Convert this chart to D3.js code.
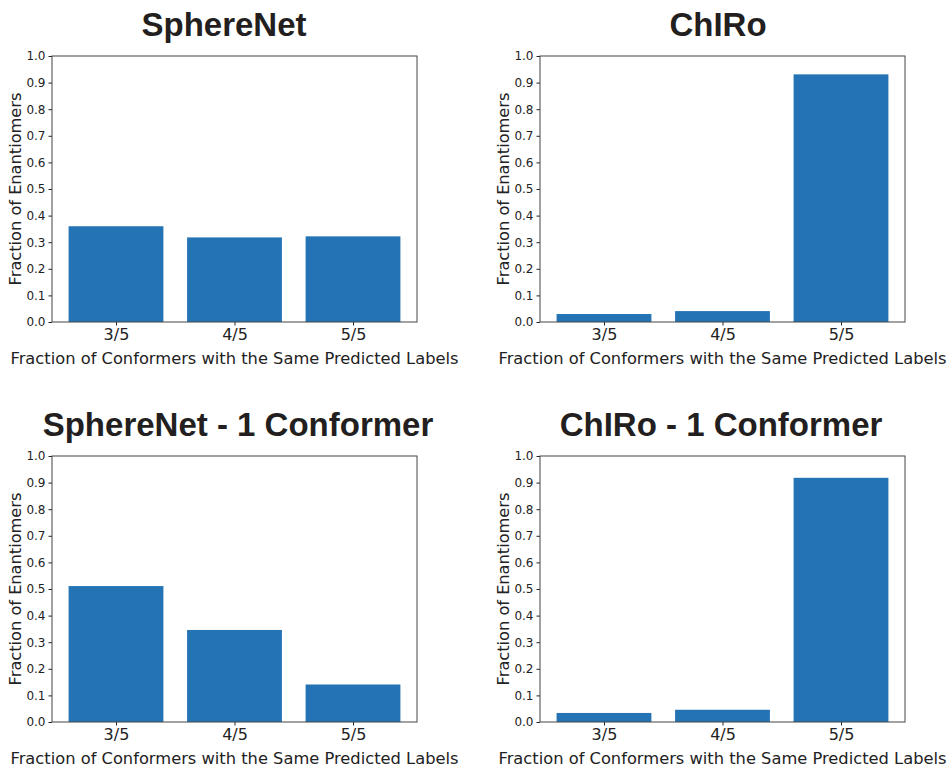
<!DOCTYPE html>
<html>
<head>
<meta charset="utf-8">
<script src="https://cdn.jsdelivr.net/npm/d3@7"></script>
<style>
  body { margin: 0; background: #fff; }
  svg { display: block; }
</style>
</head>
<body>
<div id="chart"></div>
<script>
const categories = ['3/5', '4/5', '5/5'];
const titles = ['SphereNet', 'ChIRo', 'SphereNet - 1 Conformer', 'ChIRo - 1 Conformer'];
const sphereNet = [0.36, 0.318, 0.322];
const chiro = [0.030, 0.041, 0.931];
const sphereNetOne = [0.511, 0.346, 0.141];
const chiroOne = [0.034, 0.046, 0.918];
const yTicks = [0, 0.1, 0.2, 0.3, 0.4, 0.5, 0.6, 0.7, 0.8, 0.9, 1.0];
const xLabel = 'Fraction of Conformers with the Same Predicted Labels';
const yLabel = 'Fraction of Enantiomers';

const series = [sphereNet, chiro, sphereNetOne, chiroOne];

// axes boxes in page pixels
const layout = [
  {left: 52, top: 56, titleX: 224},
  {left: 540, top: 56, titleX: 718},
  {left: 52, top: 456, titleX: 238},
  {left: 540, top: 456, titleX: 721}
];
const width = 365;
const height = 266;
const barColor = '#2474b5';
const ink = '#222';

const svg = d3.select('#chart').append('svg')
  .attr('width', 950)
  .attr('height', 767);

svg.append('rect').attr('width', 950).attr('height', 767).attr('fill', '#fff');

series.forEach((values, i) => {
  const pos = layout[i];

  // matplotlib style: bars at 0,1,2, width 0.8, 5% margins
  const x = d3.scaleLinear().domain([-0.54, 2.54]).range([0, width]);
  const y = d3.scaleLinear().domain([0, 1]).range([height, 0]);

  const g = svg.append('g')
    .attr('transform', `translate(${pos.left},${pos.top})`);

  g.selectAll('.bar')
    .data(values)
    .enter().append('rect')
    .attr('class', 'bar')
    .attr('x', (d, j) => x(j - 0.4))
    .attr('width', x(0.8) - x(0))
    .attr('y', d => y(d))
    .attr('height', d => height - y(d))
    .attr('fill', barColor);

  const yAxis = g.append('g')
    .call(d3.axisLeft(y).tickValues(yTicks).tickFormat(d3.format('.1f')).tickSize(3.5).tickPadding(3));
  yAxis.select('.domain').remove();
  yAxis.selectAll('line').attr('stroke', ink);
  yAxis.selectAll('text')
    .attr('fill', ink)
    .style('font-family', 'DejaVu Sans')
    .style('font-size', '12px');

  const xAxis = g.append('g')
    .attr('transform', `translate(0,${height})`)
    .call(d3.axisBottom(x).tickValues([0, 1, 2]).tickFormat(j => categories[j]).tickSize(3.5).tickPadding(3));
  xAxis.select('.domain').remove();
  xAxis.selectAll('line').attr('stroke', ink);
  xAxis.selectAll('text')
    .attr('fill', ink)
    .style('font-family', 'DejaVu Sans')
    .style('font-size', '16px');

  g.append('rect')
    .attr('width', width)
    .attr('height', height)
    .attr('fill', 'none')
    .attr('stroke', '#444')
    .attr('stroke-width', 1);

  g.append('text')
    .attr('x', width / 2)
    .attr('y', height + 42)
    .attr('text-anchor', 'middle')
    .attr('fill', ink)
    .style('font-family', 'DejaVu Sans')
    .style('font-size', '16.3px')
    .text(xLabel);

  g.append('text')
    .attr('transform', `translate(-31,${height / 2}) rotate(-90)`)
    .attr('text-anchor', 'middle')
    .attr('fill', ink)
    .style('font-family', 'DejaVu Sans')
    .style('font-size', '16.2px')
    .text(yLabel);

  svg.append('text')
    .attr('x', pos.titleX)
    .attr('y', pos.top - 20)
    .attr('text-anchor', 'middle')
    .attr('fill', '#231f20')
    .style('font-family', 'Liberation Sans, Arial, sans-serif')
    .style('font-weight', 'bold')
    .style('font-size', '33px')
    .text(titles[i]);
});
</script>
</body>
</html>
